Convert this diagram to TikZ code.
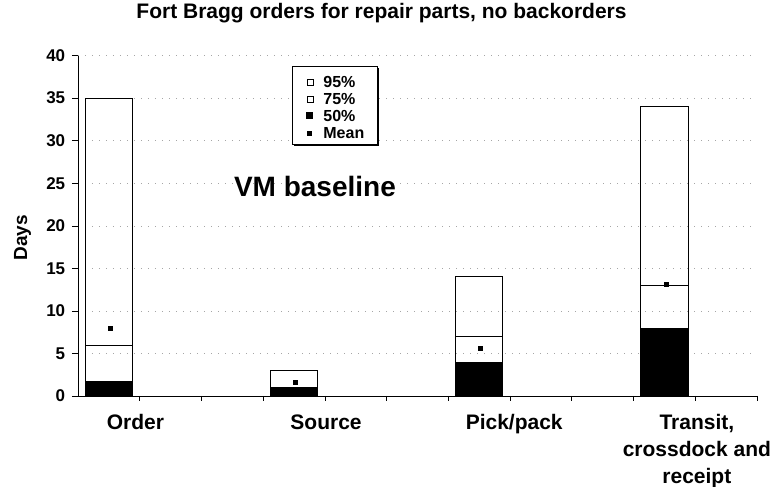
\documentclass[tikz,border=0pt]{standalone}
\usepackage{fontspec}
\setmainfont{Liberation Sans}
\begin{document}
\begin{tikzpicture}[x=61.7pt, y=8.51pt,
    gridline/.style={gray!70, dash pattern=on 1pt off 6pt},
    barbox/.style={draw=black, line width=0.8pt},
    meanmark/.style={fill=black, minimum size=5pt, inner sep=0pt},
    openmark/.style={draw=black, fill=white, minimum size=6pt, inner sep=0pt},
    fullmark/.style={fill=black, minimum size=7pt, inner sep=0pt},
    ticklabel/.style={anchor=east, font=\fontsize{17}{17}\selectfont\bfseries},
    catlabel/.style={anchor=north, align=center, font=\fontsize{21}{27}\selectfont\bfseries},
    legtext/.style={anchor=west, font=\fontsize{16}{16}\selectfont\bfseries}]
    \useasboundingbox (-1.264, -10.69) rectangle (11.264, 46.53);
    % grid
    \draw[gridline] (0, 5) -- (11, 5);
    \draw[gridline] (0, 10) -- (11, 10);
    \draw[gridline] (0, 15) -- (11, 15);
    \draw[gridline] (0, 20) -- (11, 20);
    \draw[gridline] (0, 25) -- (11, 25);
    \draw[gridline] (0, 30) -- (11, 30);
    \draw[gridline] (0, 35) -- (11, 35);
    \draw[gridline] (0, 40) -- (11, 40);
    % axes
    \draw[line width=0.7pt] (0, 40) -- (0, 0) -- (11, 0);
    \draw (-0.1, 0) -- (0, 0);
    \draw (-0.1, 5) -- (0, 5);
    \draw (-0.1, 10) -- (0, 10);
    \draw (-0.1, 15) -- (0, 15);
    \draw (-0.1, 20) -- (0, 20);
    \draw (-0.1, 25) -- (0, 25);
    \draw (-0.1, 30) -- (0, 30);
    \draw (-0.1, 35) -- (0, 35);
    \draw (-0.1, 40) -- (0, 40);
    \draw (1, 0) -- (1, -0.6);
    \draw (2, 0) -- (2, -0.6);
    \draw (3, 0) -- (3, -0.6);
    \draw (4, 0) -- (4, -0.6);
    \draw (5, 0) -- (5, -0.6);
    \draw (6, 0) -- (6, -0.6);
    \draw (7, 0) -- (7, -0.6);
    \draw (8, 0) -- (8, -0.6);
    \draw (9, 0) -- (9, -0.6);
    \draw (10, 0) -- (10, -0.6);
    \draw (11, 0) -- (11, -0.6);
    \node[ticklabel] (y0) at (-0.15, 0) {0};
    \node[ticklabel] (y5) at (-0.15, 5) {5};
    \node[ticklabel] (y10) at (-0.15, 10) {10};
    \node[ticklabel] (y15) at (-0.15, 15) {15};
    \node[ticklabel] (y20) at (-0.15, 20) {20};
    \node[ticklabel] (y25) at (-0.15, 25) {25};
    \node[ticklabel] (y30) at (-0.15, 30) {30};
    \node[ticklabel] (y35) at (-0.15, 35) {35};
    \node[ticklabel] (y40) at (-0.15, 40) {40};
    \node[rotate=90, font=\fontsize{19}{19}\selectfont\bfseries] (days) at (-0.9, 18.6) {Days};
    % bars
    \fill (0.12, 0) rectangle (0.88, 1.8);
    \draw[barbox] (0.12, 0) rectangle (0.88, 6);
    \draw[barbox] (0.12, 6) rectangle (0.88, 35);
    \node[meanmark] (mean1) at (0.52, 7.9) {};
    \fill (3.12, 0) rectangle (3.88, 1);
    \draw[barbox] (3.12, 0) rectangle (3.88, 3);
    \node[meanmark] (mean2) at (3.53, 1.6) {};
    \fill (6.12, 0) rectangle (6.88, 4);
    \draw[barbox] (6.12, 0) rectangle (6.88, 7);
    \draw[barbox] (6.12, 7) rectangle (6.88, 14);
    \node[meanmark] (mean3) at (6.53, 5.6) {};
    \fill (9.12, 0) rectangle (9.89, 8);
    \draw[barbox] (9.12, 0) rectangle (9.89, 13);
    \draw[barbox] (9.12, 13) rectangle (9.89, 34);
    \node[meanmark] (mean4) at (9.54, 13.1) {};
    % category labels
    \node[catlabel] (order) at (0.93, -1.75) {Order};
    \node[catlabel] (source) at (4.02, -1.75) {Source};
    \node[catlabel] (pickpack) at (7.07, -1.75) {Pick/pack};
    \node[catlabel] (transit) at (10.03, -1.75) {Transit,\\crossdock and\\receipt};
    % legend
    \fill[black] (3.50, 29.37) rectangle (4.88, 38.54);
    \draw[fill=white, line width=0.7pt] (3.47, 29.61) rectangle (4.85, 38.78);
    \node[openmark] (k95) at (3.76, 36.9) {};
    \node[legtext] (t95) at (3.92, 36.9) {95\%};
    \node[openmark] (k75) at (3.76, 34.9) {};
    \node[legtext] (t75) at (3.92, 34.9) {75\%};
    \node[fullmark] (k50) at (3.76, 32.9) {};
    \node[legtext] (t50) at (3.92, 32.9) {50\%};
    \node[meanmark] (kmean) at (3.76, 30.9) {};
    \node[legtext] (tmean) at (3.92, 30.9) {Mean};
    % texts
    \node[font=\fontsize{21}{21}\selectfont\bfseries] (title) at (4.92, 45.0) {Fort Bragg orders for repair parts, no backorders};
    \node[font=\fontsize{28}{28}\selectfont\bfseries] (vm) at (3.84, 24.6) {VM baseline};
\end{tikzpicture}
\end{document}
